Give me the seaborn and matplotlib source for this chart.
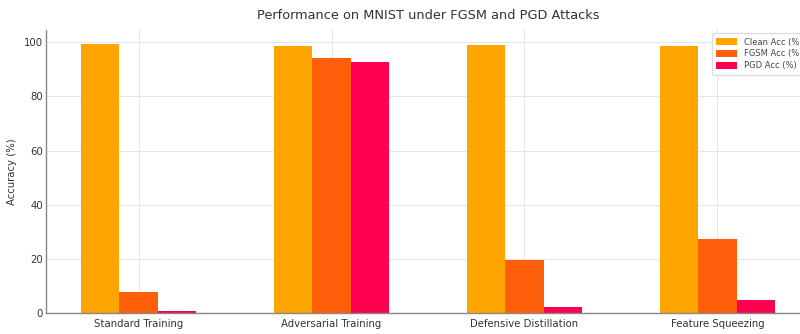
import matplotlib
matplotlib.use("Agg")
import matplotlib.pyplot as plt
import seaborn as sns
import pandas as pd

methods = ["Standard Training", "Adversarial Training", "Defensive Distillation", "Feature Squeezing"]
clean_acc = [99.4, 98.5, 98.8, 98.5]
fgsm_acc = [7.6, 94.2, 19.4, 27.2]
pgd_acc = [0.8, 92.6, 2.2, 4.9]
series_names = ["Clean Acc (%)", "FGSM Acc (%)", "PGD Acc (%)"]
colors = ["#FFA500", "#FF5F0A", "#FF0050"]

rows = []
for name, vals in zip(series_names, [clean_acc, fgsm_acc, pgd_acc]):
    for m, v in zip(methods, vals):
        rows.append({"Defense Method": m, "Metric": name, "Accuracy": v})
df = pd.DataFrame(rows)

sns.set_theme(style="whitegrid")
plt.rcParams['font.family'] = ['DejaVu Sans']

fig = plt.figure(figsize=(8.0, 3.34), dpi=100)
ax = fig.add_axes([0.0575, 0.063, 0.955, 0.847])

sns.barplot(data=df, x="Defense Method", y="Accuracy", hue="Metric",
            palette=colors, width=0.6, gap=0, linewidth=0, saturation=1,
            ax=ax, errorbar=None)

ax.set_xlim(-0.48, 3.48)
ax.set_ylim(0, 104.5)
ax.set_yticks([0, 20, 40, 60, 80, 100])
ax.set_title("Performance on MNIST under FGSM and PGD Attacks", fontsize=9.3, color="#333333", pad=8)
ax.set_xlabel("Defense Method", fontsize=7.3, color="#333333", labelpad=4)
ax.set_ylabel("Accuracy (%)", fontsize=7.3, color="#333333", labelpad=5)
ax.tick_params(axis="both", labelsize=7.3, colors="#333333", length=2, width=0.6, pad=2)
ax.tick_params(axis="y", length=0)
for s in ["top", "right"]:
    ax.spines[s].set_visible(False)
for s in ["left", "bottom"]:
    ax.spines[s].set_color("#888888")
    ax.spines[s].set_linewidth(1.0)
ax.grid(True, color="#e6e6e6", linewidth=0.7)
ax.set_axisbelow(True)

leg = ax.legend(loc="upper right", fontsize=6, frameon=True, framealpha=1,
                edgecolor="#dddddd", handlelength=2.5, handleheight=0.8,
                borderpad=0.5, labelspacing=0.35, borderaxespad=0.4)
for t in leg.get_texts():
    t.set_color("#444444")

fig.savefig("out.png", dpi=100)
